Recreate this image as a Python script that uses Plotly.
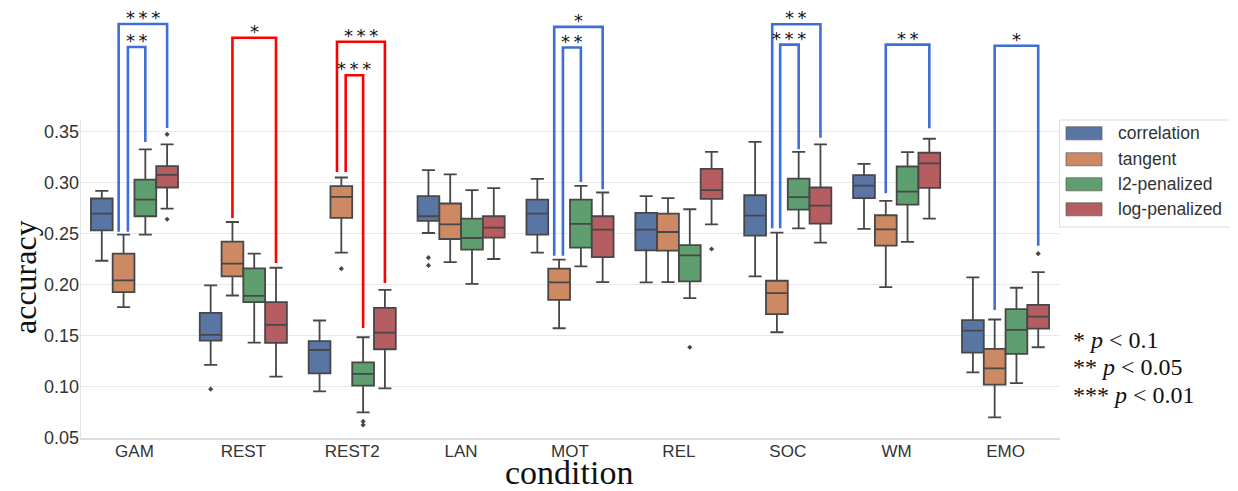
import plotly.graph_objects as go

# ---------------- data ----------------
categories = ["GAM", "REST", "REST2", "LAN", "MOT", "REL", "SOC", "WM", "EMO"]
methods = ["correlation", "tangent", "l2-penalized", "log-penalized"]
colors = ["#5875a4", "#cc8963", "#5f9e6e", "#b55d60"]

# box statistics per method (one value per category)
corr_low = [0.2235, 0.1213, 0.0954, 0.2507, 0.2314, 0.2022, 0.2081, 0.2547, 0.1141]
corr_q1 = [0.2533, 0.1452, 0.1131, 0.2625, 0.2491, 0.2337, 0.2481, 0.2848, 0.1334]
corr_med = [0.2697, 0.1508, 0.1360, 0.2671, 0.2697, 0.2540, 0.2678, 0.2972, 0.1550]
corr_q3 = [0.2845, 0.1724, 0.1446, 0.2868, 0.2835, 0.2704, 0.2877, 0.3074, 0.1652]
corr_high = [0.2920, 0.1993, 0.1649, 0.3123, 0.3038, 0.2868, 0.3401, 0.3185, 0.2071]

tang_low = [0.1780, 0.1894, 0.2314, 0.2222, 0.1573, 0.2026, 0.1534, 0.1976, 0.0699]
tang_q1 = [0.1927, 0.2081, 0.2655, 0.2448, 0.1852, 0.2334, 0.1711, 0.2383, 0.1020]
tang_med = [0.2042, 0.2206, 0.2861, 0.2592, 0.2022, 0.2517, 0.1917, 0.2543, 0.1180]
tang_q3 = [0.2304, 0.2422, 0.2966, 0.2796, 0.2157, 0.2697, 0.2039, 0.2681, 0.1370]
tang_high = [0.2491, 0.2615, 0.3051, 0.3081, 0.2245, 0.2848, 0.2510, 0.2822, 0.1659]

l2_low = [0.2491, 0.1433, 0.0748, 0.2009, 0.2180, 0.1868, 0.2553, 0.2419, 0.1036]
l2_q1 = [0.2671, 0.1829, 0.1010, 0.2343, 0.2363, 0.2032, 0.2737, 0.2786, 0.1321]
l2_med = [0.2835, 0.1891, 0.1125, 0.2458, 0.2596, 0.2288, 0.2859, 0.2913, 0.1557]
l2_q3 = [0.3031, 0.2160, 0.1239, 0.2648, 0.2835, 0.2389, 0.3041, 0.3159, 0.1760]
l2_high = [0.3326, 0.2304, 0.1485, 0.2927, 0.2969, 0.2740, 0.3303, 0.3300, 0.1970]

log_low = [0.2746, 0.1098, 0.0984, 0.2252, 0.2026, 0.2592, 0.2412, 0.2648, 0.1387]
log_q1 = [0.2953, 0.1429, 0.1367, 0.2461, 0.2271, 0.2841, 0.2599, 0.2950, 0.1570]
log_med = [0.3077, 0.1606, 0.1531, 0.2560, 0.2540, 0.2927, 0.2776, 0.3189, 0.1688]
log_q3 = [0.3163, 0.1829, 0.1773, 0.2671, 0.2671, 0.3136, 0.2953, 0.3294, 0.1803]
log_high = [0.3375, 0.2166, 0.1950, 0.2946, 0.2904, 0.3303, 0.3375, 0.3431, 0.2124]

# outliers: (category index, value)
corr_outliers = [(1, 0.0977), (3, 0.2265), (3, 0.2189)]
tang_outliers = [(2, 0.2157)]
l2_outliers = [(2, 0.0660), (2, 0.0625), (5, 0.1387)]
log_outliers = [(0, 0.3474), (0, 0.2642), (5, 0.2350), (8, 0.2304)]

# significance brackets: category, left method, right method, left-leg shift,
# left-leg bottom, right-leg bottom, bracket top, label, colour
BLUE = "#3d6fd6"
RED = "#ff0000"
S3 = "*\u2009*\u2009*"
S2 = "*\u2009*"
S1 = "*"
brackets = [
    (0, 1, 3, -0.045, 0.2520, 0.3536, 0.4556, S3, BLUE),
    (0, 1, 2, 0.040, 0.2520, 0.3400, 0.4330, S2, BLUE),
    (1, 1, 3, 0.0, 0.2654, 0.2213, 0.4421, S1, RED),
    (2, 1, 3, -0.040, 0.3105, 0.2016, 0.4382, S3, RED),
    (2, 1, 2, 0.040, 0.3105, 0.1576, 0.4053, S3, RED),
    (4, 1, 3, -0.045, 0.2284, 0.2935, 0.4528, S1, BLUE),
    (4, 1, 2, 0.035, 0.2284, 0.3007, 0.4325, S2, BLUE),
    (6, 1, 3, -0.043, 0.2553, 0.3441, 0.4553, S2, BLUE),
    (6, 1, 2, 0.030, 0.2553, 0.3327, 0.4354, S3, BLUE),
    (7, 1, 3, 0.0, 0.2896, 0.3533, 0.4354, S2, BLUE),
    (8, 1, 3, 0.0, 0.1752, 0.2382, 0.4343, S1, BLUE),
]

pvalue_lines = ["* <i>p</i> &lt; 0.1", "** <i>p</i> &lt; 0.05", "*** <i>p</i> &lt; 0.01"]
yticks = [0.05, 0.10, 0.15, 0.20, 0.25, 0.30, 0.35]

# ---------------- figure ----------------
stats = [
    (corr_low, corr_q1, corr_med, corr_q3, corr_high),
    (tang_low, tang_q1, tang_med, tang_q3, tang_high),
    (l2_low, l2_q1, l2_med, l2_q3, l2_high),
    (log_low, log_q1, log_med, log_q3, log_high),
]
outliers = [corr_outliers, tang_outliers, l2_outliers, log_outliers]
offsets = [-0.3, -0.1, 0.1, 0.3]
xpos = list(range(len(categories)))
LINE = "#474747"

fig = go.Figure()
for j, (lo, q1, med, q3, hi) in enumerate(stats):
    fig.add_trace(go.Box(
        x=xpos, q1=q1, median=med, q3=q3, lowerfence=lo, upperfence=hi,
        name=methods[j], fillcolor=colors[j],
        line=dict(color=LINE, width=1.8), whiskerwidth=0.6,
        boxpoints=False, showlegend=False, offsetgroup=str(j),
    ))
for j, pts in enumerate(outliers):
    fig.add_trace(go.Scatter(
        x=[c + offsets[j] for c, _ in pts], y=[v for _, v in pts],
        mode="markers", marker=dict(symbol="diamond", size=4, color=LINE),
        showlegend=False, hoverinfo="skip",
    ))

shapes = []
annotations = []
for cat, a, b, shift, yb1, yb2, top, label, col in brackets:
    x1 = cat + offsets[a] + shift
    x2 = cat + offsets[b]
    shapes.append(dict(
        type="path", xref="x", yref="y",
        path=f"M {x1},{yb1} L {x1},{top} L {x2},{top} L {x2},{yb2}",
        line=dict(color=col, width=2.6),
    ))
    annotations.append(dict(
        x=(x1 + x2) / 2, y=top, xref="x", yref="y", text=label,
        showarrow=False, xanchor="center", yanchor="bottom", yshift=-6,
        font=dict(family="DejaVu Sans", size=18, color="#111"),
    ))

Y_LO, Y_HI = 0.0497, 0.4713
# left spine
shapes.append(dict(type="line", xref="x", yref="y", x0=-0.5, x1=-0.5, y0=Y_LO, y1=0.3614,
                   line=dict(color="#dcdcdc", width=1.5)))

# custom legend (positions in screen pixels -> paper coords)
L, R, T, B = 80, 1060, 8, 438
px = lambda v: (v - L) / (R - L)
py = lambda v: (B - v) / (B - T)
shapes.append(dict(type="rect", xref="paper", yref="paper",
                   x0=px(1059.5), x1=px(1231.5), y0=py(227), y1=py(120),
                   line=dict(color="#dddddd", width=1), fillcolor="white"))
leg_rows = [133.3, 159.3, 184.3, 209.3]
for j, yc in enumerate(leg_rows):
    shapes.append(dict(type="rect", xref="paper", yref="paper",
                       x0=px(1066), x1=px(1102), y0=py(yc + 6.5), y1=py(yc - 6.5),
                       line=dict(color="#666666", width=0.8), fillcolor=colors[j]))
    annotations.append(dict(x=px(1116), y=py(yc), xref="paper", yref="paper",
                            text=methods[j], showarrow=False, xanchor="left", yanchor="middle",
                            font=dict(family="Liberation Sans", size=17.5, color="#333")))

for txt, yc in zip(pvalue_lines, [340, 367, 395]):
    annotations.append(dict(x=px(1071), y=py(yc), xref="paper", yref="paper",
                            text=txt, showarrow=False, xanchor="left", yanchor="middle",
                            font=dict(family="Liberation Serif", size=24, color="#111")))

# axis titles
annotations.append(dict(x=px(25), y=py(277), xref="paper", yref="paper", text="accuracy",
                        textangle=-90, showarrow=False, xanchor="center", yanchor="middle",
                        font=dict(family="Liberation Serif", size=32, color="#111")))
annotations.append(dict(x=px(569), y=py(473), xref="paper", yref="paper", text="condition",
                        showarrow=False, xanchor="center", yanchor="middle",
                        font=dict(family="Liberation Serif", size=34, color="#111")))

fig.update_layout(
    width=1230, height=483,
    margin=dict(l=72, r=178, t=0, b=53),
    paper_bgcolor="white", plot_bgcolor="white",
    boxmode="group", boxgap=0.2, boxgroupgap=0,
    shapes=shapes, annotations=annotations,
    showlegend=False,
    xaxis=dict(range=[-0.5, 8.5], tickvals=xpos, ticktext=categories,
               showgrid=False, zeroline=False, showline=True,
               linecolor="#dcdcdc", linewidth=2, ticks="", ticklabelstandoff=-3,
               tickfont=dict(family="Liberation Sans", size=17, color="#333")),
    yaxis=dict(range=[Y_LO, Y_HI], tickvals=yticks,
               ticktext=[f"{v:.2f}" for v in yticks],
               showgrid=True, gridcolor="#e8e8e8", gridwidth=1,
               zeroline=False, showline=False, ticks="",
               tickfont=dict(family="Liberation Sans", size=18, color="#333")),
)

fig.write_html("out.html")
